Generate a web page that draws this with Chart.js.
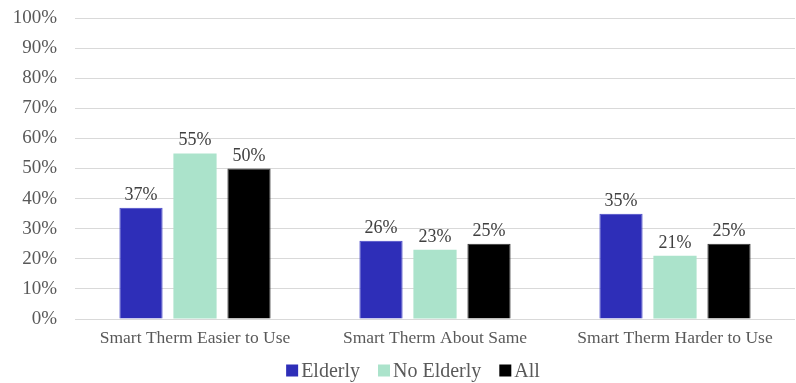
<!DOCTYPE html>
<html><head><meta charset="utf-8">
<script src="https://cdn.jsdelivr.net/npm/chart.js@4/dist/chart.umd.min.js"></script>
<style>html,body{margin:0;padding:0;background:#fff}#wrap{width:796px;height:383px}</style>
</head><body><div id="wrap"><canvas id="c" width="796" height="383"></canvas></div>
<script>
const categories = ["Smart Therm Easier to Use", "Smart Therm About Same", "Smart Therm Harder to Use"];
const elderly = [37, 26, 35];
const noElderly = [55, 23, 21];
const all = [50, 25, 25];
const seriesNames = ["Elderly", "No Elderly", "All"];
const yTicks = [0,10,20,30,40,50,60,70,80,90,100];

const FONT = "'Liberation Serif', 'Times New Roman', serif";
const TXT = "#595959";

const labelPlugin = {
  id: 'barLabels',
  afterDatasetsDraw(chart) {
    const ctx = chart.ctx;
    ctx.save();
    ctx.font = "18px " + FONT;
    ctx.fillStyle = "#404040";
    ctx.textAlign = "center";
    ctx.textBaseline = "alphabetic";
    chart.data.datasets.forEach((ds, i) => {
      chart.getDatasetMeta(i).data.forEach((bar, j) => {
        ctx.fillText(ds.data[j] + "%", bar.x, bar.y - 8);
      });
    });
    ctx.restore();
  }
};

const legendPlugin = {
  id: 'customLegend',
  afterDraw(chart) {
    const ctx = chart.ctx;
    ctx.save();
    ctx.font = "20px " + FONT;
    ctx.textBaseline = "middle";
    ctx.textAlign = "left";
    const box = 12, gapText = 3, gapItem = 18;
    const items = chart.data.datasets.map(ds => ({text: ds.label, color: ds.backgroundColor, w: ctx.measureText(ds.label).width}));
    const total = items.reduce((s, it) => s + box + gapText + it.w, 0) + gapItem * (items.length - 1);
    let x = chart.width / 2 + 15 - total / 2;
    const cy = 370.5;
    items.forEach(it => {
      ctx.fillStyle = it.color;
      ctx.fillRect(x, cy - box / 2, box, box);
      x += box + gapText;
      ctx.fillStyle = TXT;
      ctx.fillText(it.text, x, cy + 1);
      x += it.w + gapItem;
    });
    ctx.restore();
  }
};

new Chart(document.getElementById('c'), {
  type: 'bar',
  data: {
    labels: categories,
    datasets: [
      {label: seriesNames[0], data: elderly, backgroundColor: "#2E2EB8", borderColor: "#4747C8", borderWidth: 1},
      {label: seriesNames[1], data: noElderly, backgroundColor: "#ABE3CB", borderColor: "#ABE3CB", borderWidth: 0},
      {label: seriesNames[2], data: all, backgroundColor: "#000000", borderColor: "#333333", borderWidth: 1}
    ]
  },
  options: {
    responsive: false,
    animation: false,
    layout: {padding: {left: 0, right: 1, top: 18, bottom: 25}},
    datasets: {bar: {categoryPercentage: 0.675, barPercentage: 0.8}},
    plugins: {
      legend: {display: false},
      tooltip: {enabled: false}
    },
    scales: {
      x: {
        grid: {display: false, drawTicks: false},
        border: {display: false},
        ticks: {font: {family: FONT, size: 17.5}, color: TXT, padding: 9}
      },
      y: {
        min: 0, max: 100,
        afterBuildTicks(axis) { axis.ticks = yTicks.map(v => ({value: v})); },
        afterFit(axis) { axis.width = 75; axis.paddingTop = 0; },
        grid: {color: "#D9D9D9", lineWidth: 1, drawTicks: false},
        border: {display: false},
        ticks: {font: {family: FONT, size: 19, lineHeight: 1.0}, color: TXT, padding: 18, callback: v => v + "%"}
      }
    }
  },
  plugins: [labelPlugin, legendPlugin]
});
</script></body></html>
